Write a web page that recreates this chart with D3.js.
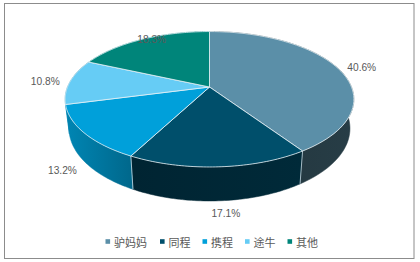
<!DOCTYPE html>
<html lang="zh-cn">
<head>
<meta charset="utf-8">
<style>
    html, body { margin: 0; padding: 0; background: #fff; }
    svg { display: block; }
    text { font-family: "Liberation Sans", Arial, sans-serif; fill: #595959; }
    .legend text { font-family: "Noto Sans CJK SC", sans-serif; }
</style>
<script src="https://d3js.org/d3.v7.min.js"></script>
</head>
<body>
<script>
    // data
    var categories = ["驴妈妈", "同程", "携程", "途牛", "其他"];
    var shares = [40.6, 17.1, 13.2, 10.8, 18.3];
    var topColors = ["#5b8fa8", "#004f6b", "#00a0da", "#66ccf5", "#00857a"];
    var wallLeft = ["#22343c", "#002432", "#0086b4", "#0086b4", "#00857a"];
    var wallRight = ["#273d46", "#002a39", "#00688c", "#00688c", "#00857a"];
    // nudge of each % label from its point on the rim
    var labelNudge = [[11, 0.5], [6, 37], [-7.5, 32], [-11, 0], [15, 4.5]];

    var width = 420, height = 262;
    var svg = d3.select("body").append("svg")
        .attr("width", width)
        .attr("height", height);

    svg.append("rect")
        .attr("x", 4.5).attr("y", 3.5)
        .attr("width", 409.5).attr("height", 255)
        .attr("fill", "#fff")
        .attr("stroke", "#8c8c8c")
        .attr("stroke-width", 1);

    // the pie lies on a tilted plane, seen in perspective
    var cx = 209.5, cy = 87, rx = 142, ry = 65.5, k = 0.181;

    function project(angle, r, sx, sy, shift) {
        var u = Math.sin(angle) * r, v = -Math.cos(angle) * r;
        var w = 1 - k * v;
        return [cx + rx * sx * u / w, cy + shift + ry * sy * v / w];
    }
    function topPoint(a) { return project(a, 1, 1, 1, 0); }
    function bottomPoint(a) { return project(a, 1, 0.973, 1.07, 28.4); }
    function labelPoint(d, i) {
        var p = project((d.startAngle + d.endAngle) / 2, 1.1, 1, 1, 0);
        return [p[0] + labelNudge[i][0], p[1] + labelNudge[i][1]];
    }

    function arcAngles(d) {
        return d3.range(0, 1.0001, 1 / 60).map(function (t) {
            return d.startAngle + (d.endAngle - d.startAngle) * t;
        });
    }

    var pie = d3.pie().sort(null);
    var slices = pie(shares);
    var line = d3.line();

    var defs = svg.append("defs");
    slices.forEach(function (d, i) {
        var xs = arcAngles(d).map(function (a) { return topPoint(a)[0]; });
        var grad = defs.append("linearGradient")
            .attr("id", "wall" + i)
            .attr("gradientUnits", "userSpaceOnUse")
            .attr("x1", d3.min(xs)).attr("x2", d3.max(xs))
            .attr("y1", 0).attr("y2", 0);
        grad.append("stop").attr("offset", 0).attr("stop-color", wallLeft[i]);
        grad.append("stop").attr("offset", 1).attr("stop-color", wallRight[i]);
    });

    // side walls first, the top face covers what is behind
    svg.append("g").selectAll("path")
        .data(slices)
        .enter()
        .append("path")
        .attr("d", function (d) {
            var a = arcAngles(d);
            return line(a.map(topPoint).concat(a.slice().reverse().map(bottomPoint))) + "Z";
        })
        .attr("fill", function (d, i) { return "url(#wall" + i + ")"; })
        .attr("stroke", function (d, i) { return "url(#wall" + i + ")"; })
        .attr("stroke-width", 0.5);

    // dividers on the visible wall
    svg.append("g").selectAll("line")
        .data(slices.filter(function (d) { return -Math.cos(d.endAngle) > 0.3; }))
        .enter()
        .append("line")
        .attr("x1", function (d) { return topPoint(d.endAngle)[0]; })
        .attr("y1", function (d) { return topPoint(d.endAngle)[1]; })
        .attr("x2", function (d) { return bottomPoint(d.endAngle)[0]; })
        .attr("y2", function (d) { return bottomPoint(d.endAngle)[1]; })
        .attr("stroke", "#c9dbe3")
        .attr("stroke-width", 0.8);

    svg.append("g").selectAll("path")
        .data(slices)
        .enter()
        .append("path")
        .attr("d", function (d) {
            var pts = arcAngles(d).map(topPoint);
            pts.unshift([cx, cy]);
            return line(pts) + "Z";
        })
        .attr("fill", function (d, i) { return topColors[i]; })
        .attr("stroke", "#e4f0f5")
        .attr("stroke-width", 0.8)
        .attr("stroke-linejoin", "round");

    svg.append("g").selectAll("text")
        .data(slices)
        .enter()
        .append("text")
        .attr("x", function (d, i) { return labelPoint(d, i)[0]; })
        .attr("y", function (d, i) { return labelPoint(d, i)[1]; })
        .attr("text-anchor", "middle")
        .attr("dominant-baseline", "central")
        .attr("font-size", 10.2)
        .text(function (d, i) { return shares[i].toFixed(1) + "%"; });

    // legend
    var legendX = d3.scaleOrdinal().domain(categories).range([105.5, 160, 202.5, 245, 287.5]);
    var legend = svg.append("g").attr("class", "legend")
        .selectAll("g")
        .data(categories)
        .enter()
        .append("g")
        .attr("transform", function (d) { return "translate(" + legendX(d) + ",241.5)"; });
    legend.append("rect")
        .attr("x", 0).attr("y", -2.3)
        .attr("width", 4.6).attr("height", 4.6)
        .attr("fill", function (d, i) { return topColors[i]; });
    legend.append("text")
        .attr("x", 8.4)
        .attr("dominant-baseline", "central")
        .attr("font-size", 11)
        .text(function (d) { return d; });
</script>
</body>
</html>
